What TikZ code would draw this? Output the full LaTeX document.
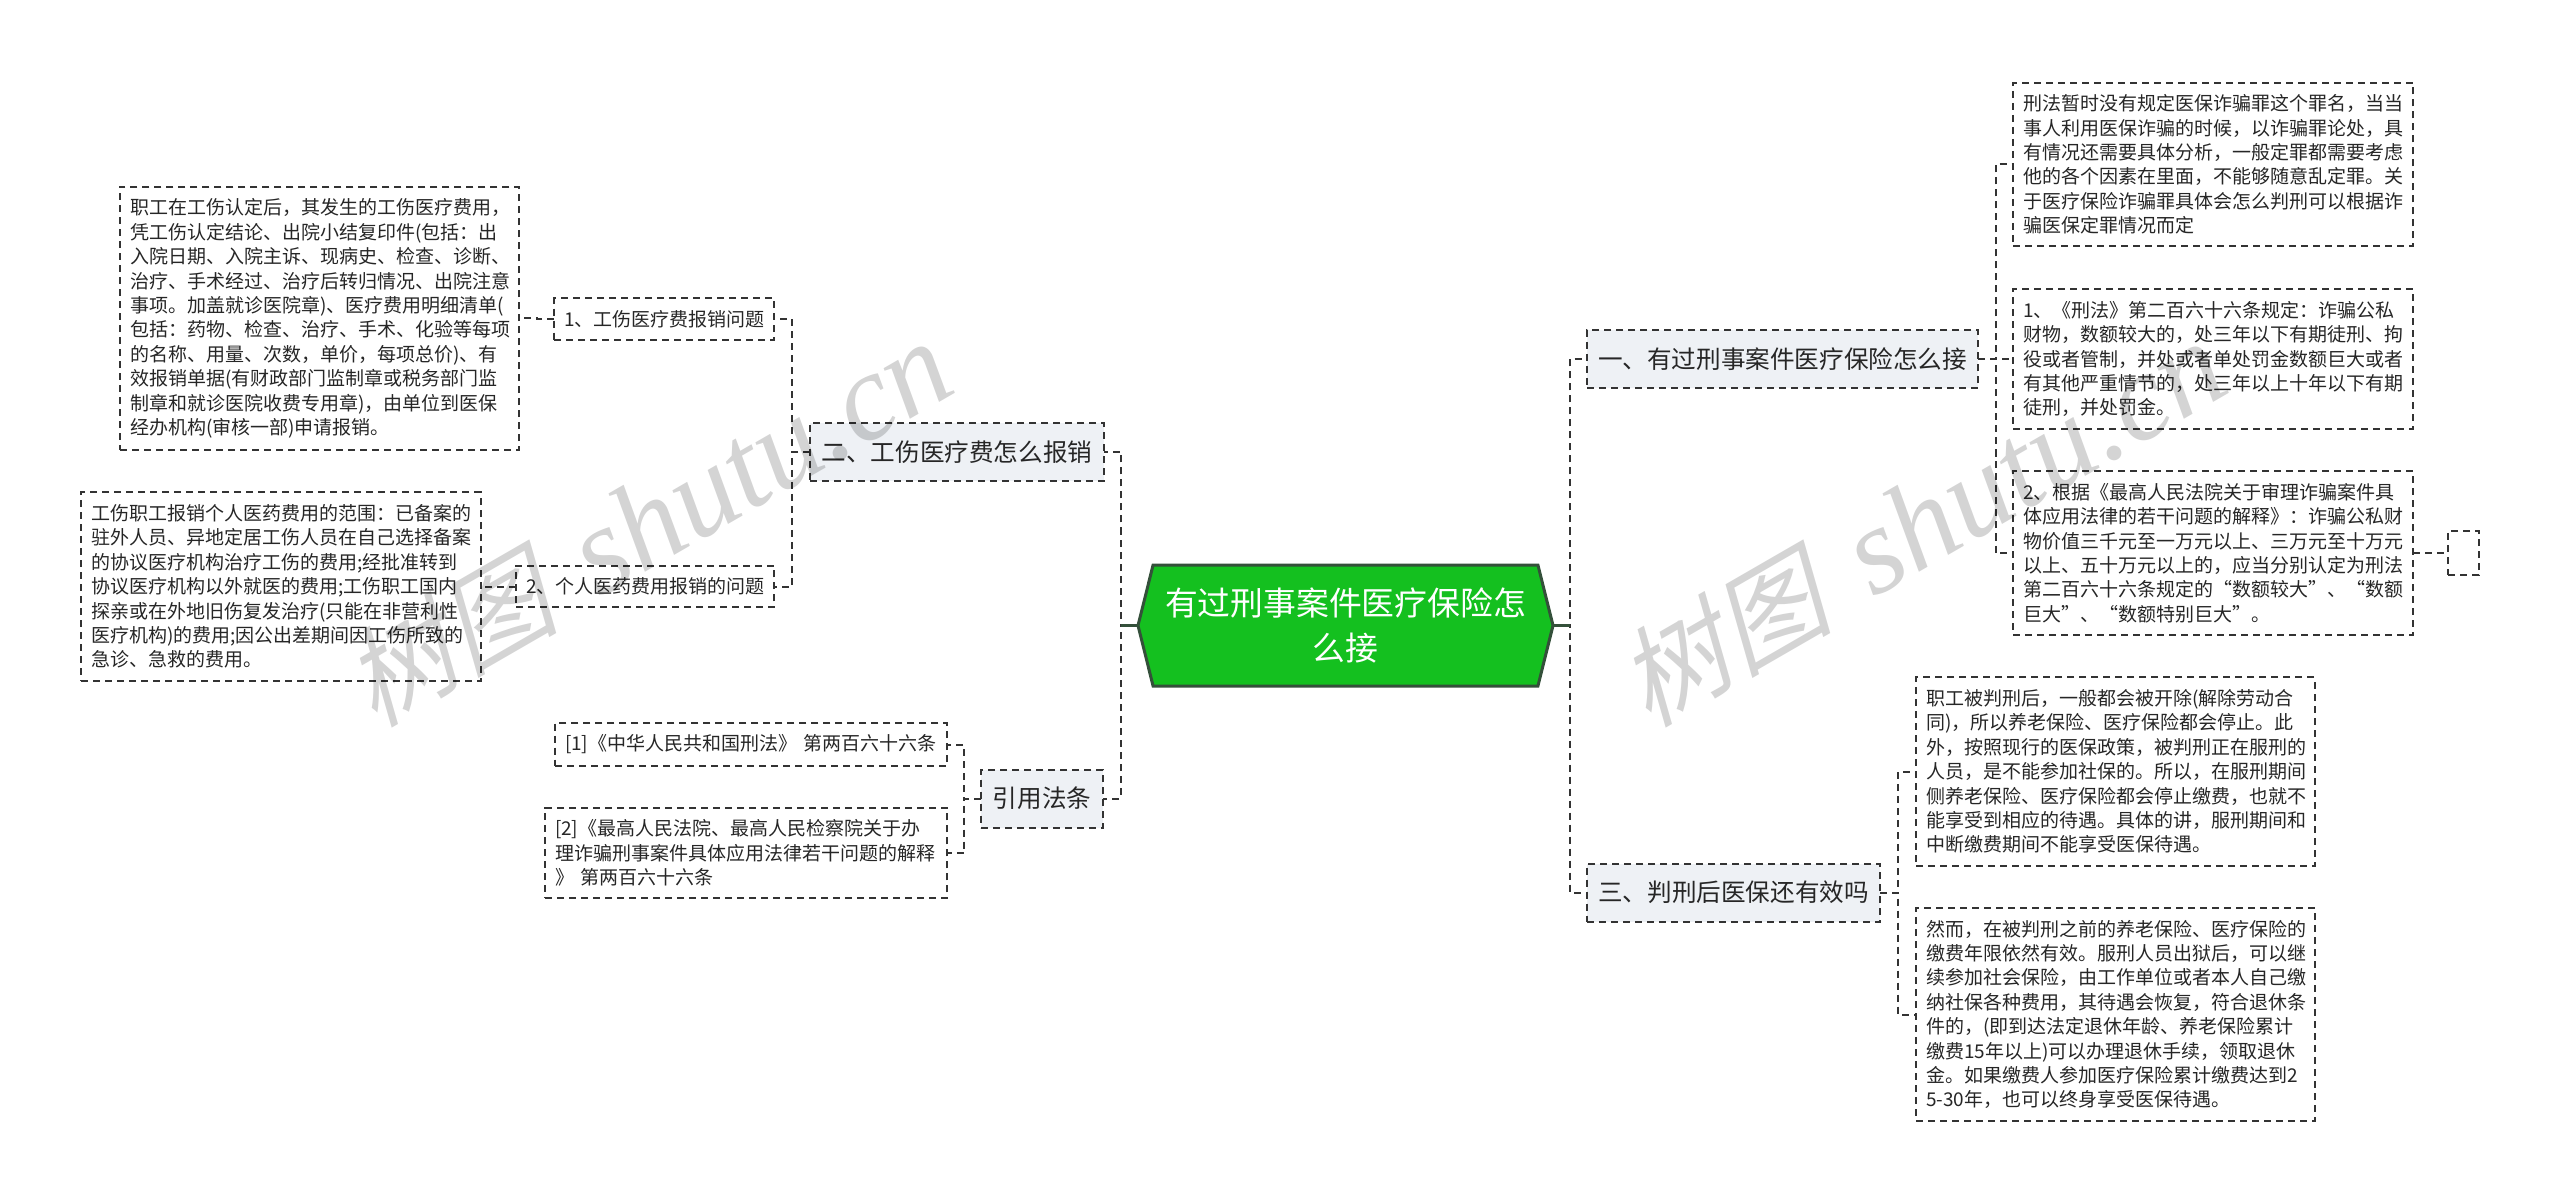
\documentclass[tikz,border=0pt]{standalone}
\usepackage{fontspec}
\usepackage{tikz}
\usetikzlibrary{calc,shapes.symbols}
\setmainfont{Noto Sans CJK SC}
\newfontfamily\wmcjk[FakeSlant=0.25]{Noto Sans CJK SC}
\newfontfamily\wmlatin{Liberation Serif}
\newcommand{\wmtext}{{\fontsize{54}{60}\selectfont\wmcjk 树图}\hspace{22pt}{\fontsize{62}{60}\selectfont\wmlatin\itshape shutu.cn}}
\definecolor{inkc}{HTML}{333333}
\definecolor{rootc}{HTML}{14C01F}
\definecolor{rimc}{HTML}{34503A}
\definecolor{secc}{HTML}{EEF1F5}
\tikzset{
    box/.style={draw=inkc,line width=1pt,dash pattern=on 3.5pt off 2.5pt,text=black!85,outer sep=0pt},
    leaf/.style={box,align=left,inner xsep=5pt,inner ysep=6pt,font=\fontsize{9.5}{12.2}\selectfont},
    sec/.style={box,fill=secc,align=center,minimum height=29pt,inner xsep=0pt,font=\fontsize{12.3}{15}\selectfont},
    link/.style={draw=inkc,line width=1pt,dash pattern=on 3.5pt off 2.5pt,
        to path={-| ($(\tikztostart)!.5!(\tikztotarget)$) |- (\tikztotarget)}},
    stem/.style={draw=rimc,line width=1.5pt},
    wmark/.style={rotate=30,text=black,text opacity=.17},
}
\begin{document}
\begin{tikzpicture}[x=0.5pt,y=-0.5pt]
    \useasboundingbox (0,0) rectangle (2560,1203);
    \node[shape=signal,signal to=west and east,signal pointer angle=152,draw=rimc,line width=1.5pt,fill=rootc,text=white,
        align=center,minimum width=207.5pt,minimum height=60.5pt,inner sep=0pt,outer sep=0pt,
        font=\fontsize{16.4}{22.5}\selectfont] (R) at (1345.5,625.5) {有过刑事案件医疗保险怎\\么接};
    \node[sec,minimum width=147pt] (S2) at (957,452) {二、工伤医疗费怎么报销};
    \node[sec,minimum width=61pt] (S4) at (1042,798.5) {引用法条};
    \node[sec,minimum width=195.5pt] (S1) at (1782.5,359) {一、有过刑事案件医疗保险怎么接};
    \node[sec,minimum width=146.5pt] (S3) at (1733.5,892.5) {三、判刑后医保还有效吗};
    \node[leaf,text width=100pt] (A1) at (664,319) {1、工伤医疗费报销问题};
    \node[leaf,text width=119pt] (A2) at (645,586.5) {2、个人医药费用报销的问题};
    \node[leaf,text width=189.5pt] (A3) at (319.5,318.5) {职工在工伤认定后，其发生的工伤医疗费用，\\凭工伤认定结论、出院小结复印件(包括：出\\入院日期、入院主诉、现病史、检查、诊断、\\治疗、手术经过、治疗后转归情况、出院注意\\事项。加盖就诊医院章)、医疗费用明细清单(\\包括：药物、检查、治疗、手术、化验等每项\\的名称、用量、次数，单价，每项总价)、有\\效报销单据(有财政部门监制章或税务部门监\\制章和就诊医院收费专用章)，由单位到医保\\经办机构(审核一部)申请报销。};
    \node[leaf,text width=190pt] (A4) at (281,586.5) {工伤职工报销个人医药费用的范围：已备案的\\驻外人员、异地定居工伤人员在自己选择备案\\的协议医疗机构治疗工伤的费用;经批准转到\\协议医疗机构以外就医的费用;工伤职工国内\\探亲或在外地旧伤复发治疗(只能在非营利性\\医疗机构)的费用;因公出差期间因工伤所致的\\急诊、急救的费用。};
    \node[leaf,text width=186pt] (B1) at (751,744.5) {[1]《中华人民共和国刑法》 第两百六十六条};
    \node[leaf,text width=191pt] (B2) at (746,853) {[2]《最高人民法院、最高人民检察院关于办\\理诈骗刑事案件具体应用法律若干问题的解释\\》 第两百六十六条};
    \node[leaf,text width=190pt] (C1) at (2213,164.5) {刑法暂时没有规定医保诈骗罪这个罪名，当当\\事人利用医保诈骗的时候，以诈骗罪论处，具\\有情况还需要具体分析，一般定罪都需要考虑\\他的各个因素在里面，不能够随意乱定罪。关\\于医疗保险诈骗罪具体会怎么判刑可以根据诈\\骗医保定罪情况而定};
    \node[leaf,text width=190pt] (C2) at (2213,359) {1、《刑法》第二百六十六条规定：诈骗公私\\财物，数额较大的，处三年以下有期徒刑、拘\\役或者管制，并处或者单处罚金数额巨大或者\\有其他严重情节的，处三年以上十年以下有期\\徒刑，并处罚金。};
    \node[leaf,text width=190pt] (C3) at (2213,553) {2、根据《最高人民法院关于审理诈骗案件具\\体应用法律的若干问题的解释》：诈骗公私财\\物价值三千元至一万元以上、三万元至十万元\\以上、五十万元以上的，应当分别认定为刑法\\第二百六十六条规定的“数额较大”、“数额\\巨大”、“数额特别巨大”。};
    \node[box,minimum width=15.5pt,minimum height=22pt,inner sep=0pt] (C4) at (2463.5,553) {};
    \node[leaf,text width=189.5pt] (D1) at (2115.5,771.5) {职工被判刑后，一般都会被开除(解除劳动合\\同)，所以养老保险、医疗保险都会停止。此\\外，按照现行的医保政策，被判刑正在服刑的\\人员，是不能参加社保的。所以，在服刑期间\\侧养老保险、医疗保险都会停止缴费，也就不\\能享受到相应的待遇。具体的讲，服刑期间和\\中断缴费期间不能享受医保待遇。};
    \node[leaf,text width=189.5pt] (D2) at (2115.5,1014.5) {然而，在被判刑之前的养老保险、医疗保险的\\缴费年限依然有效。服刑人员出狱后，可以继\\续参加社会保险，由工作单位或者本人自己缴\\纳社保各种费用，其待遇会恢复，符合退休条\\件的，(即到达法定退休年龄、养老保险累计\\缴费15年以上)可以办理退休手续，领取退休\\金。如果缴费人参加医疗保险累计缴费达到2\\5-30年，也可以终身享受医保待遇。};
    \coordinate (RL) at (1121,625.5);
    \coordinate (RR) at (1570,625.5);
    \path [link] (R.west) edge (S2.east);
    \path [link] (R.west) edge (S4.east);
    \path [link] (R.east) edge (S1.west);
    \path [link] (R.east) edge (S3.west);
    \path [stem] (R.west) edge (RL);
    \path [stem] (R.east) edge (RR);
    \path [link] (S2.west) edge (A1.east);
    \path [link] (S2.west) edge (A2.east);
    \path [link] (A1.west) edge (A3.east);
    \path [link] (A2.west) edge (A4.east);
    \path [link] (S4.west) edge (B1.east);
    \path [link] (S4.west) edge (B2.east);
    \path [link] (S1.east) edge (C1.west);
    \path [link] (S1.east) edge (C2.west);
    \path [link] (S1.east) edge (C3.west);
    \path [link] (C3.east) edge (C4.west);
    \path [link] (S3.east) edge (D1.west);
    \path [link] (S3.east) edge (D2.west);
    \node[wmark] (W1) at (647,524) {\wmtext};
    \node[wmark] (W2) at (1921,524) {\wmtext};
\end{tikzpicture}
\end{document}
